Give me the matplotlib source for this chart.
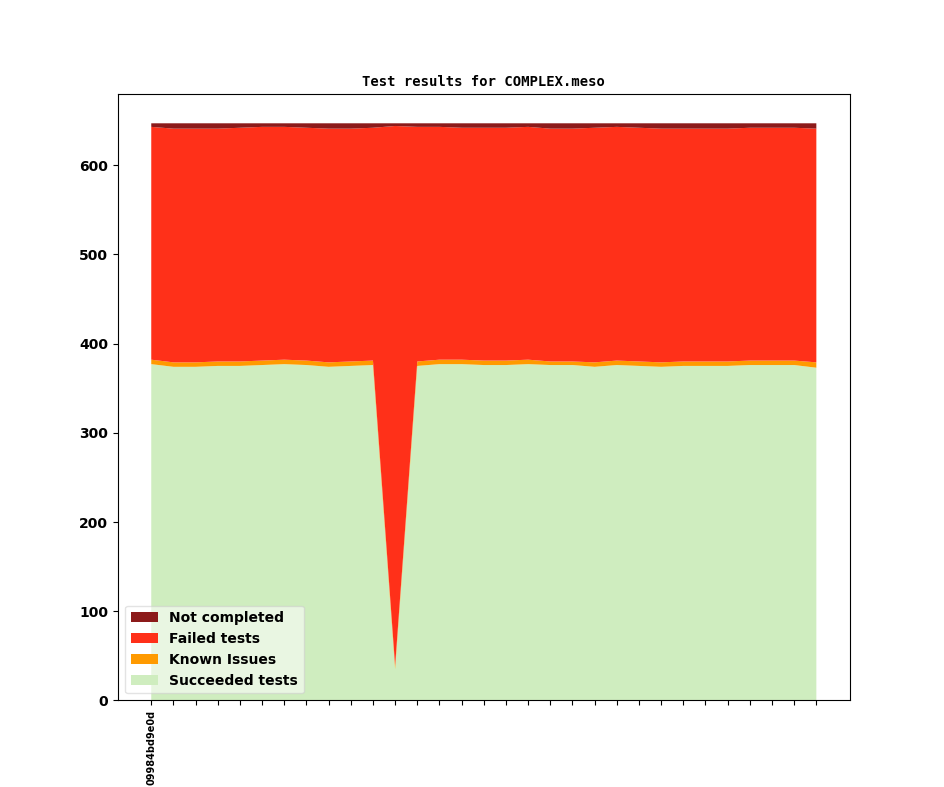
"""Stacked test results per commit."""
import matplotlib
matplotlib.use("Agg")
import matplotlib.pyplot as plt  # type: ignore
import numpy as np  # type: ignore

commits = ["09984bd9e0d"] + [""] * 30

succeeded = [377, 374, 374, 375, 375, 376, 377, 376, 374, 375, 376, 35,
             375, 377, 377, 376, 376, 377, 376, 376, 374, 376, 375, 374,
             375, 375, 375, 376, 376, 376, 373]
known_issues = [5, 5, 5, 5, 5, 5, 5, 5, 5, 5, 5, 4,
                5, 5, 5, 5, 5, 5, 4, 4, 5, 5, 5, 5,
                5, 5, 5, 5, 5, 5, 6]
not_completed = [4, 6, 6, 6, 5, 4, 4, 5, 6, 6, 5, 3,
                 4, 4, 5, 5, 5, 4, 6, 6, 5, 4, 5, 6,
                 6, 6, 6, 5, 5, 5, 6]
total = 647
failed = [total - s - k - n for s, k, n in zip(succeeded, known_issues, not_completed)]

labels = ["Succeeded tests", "Known Issues", "Failed tests", "Not completed"]
colors = ["#cfedbf", "#ff9a00", "#ff3019", "#8c1a1a"]


def main():
    """."""
    fig, ax = plt.subplots(figsize=(9.44, 7.87), dpi=100)
    x_pos = np.arange(len(commits))
    polys = ax.stackplot(x_pos, succeeded, known_issues, failed, not_completed,
                         labels=labels, colors=colors)
    ax.set_title("Test results for COMPLEX.meso", family="monospace",
                 fontweight="bold", fontsize=10)
    ax.set_xticks(x_pos)
    ax.set_xticklabels(commits, rotation=90, fontsize=7, fontweight="bold")
    for lbl in ax.get_yticklabels():
        lbl.set_fontweight("bold")
    ax.legend(polys[::-1], labels[::-1], loc="lower left", framealpha=0.55,
              prop={"weight": "bold", "size": 10})
    fig.savefig("out.png", dpi=100)
    plt.close(fig)


if __name__ == "__main__":
    main()
